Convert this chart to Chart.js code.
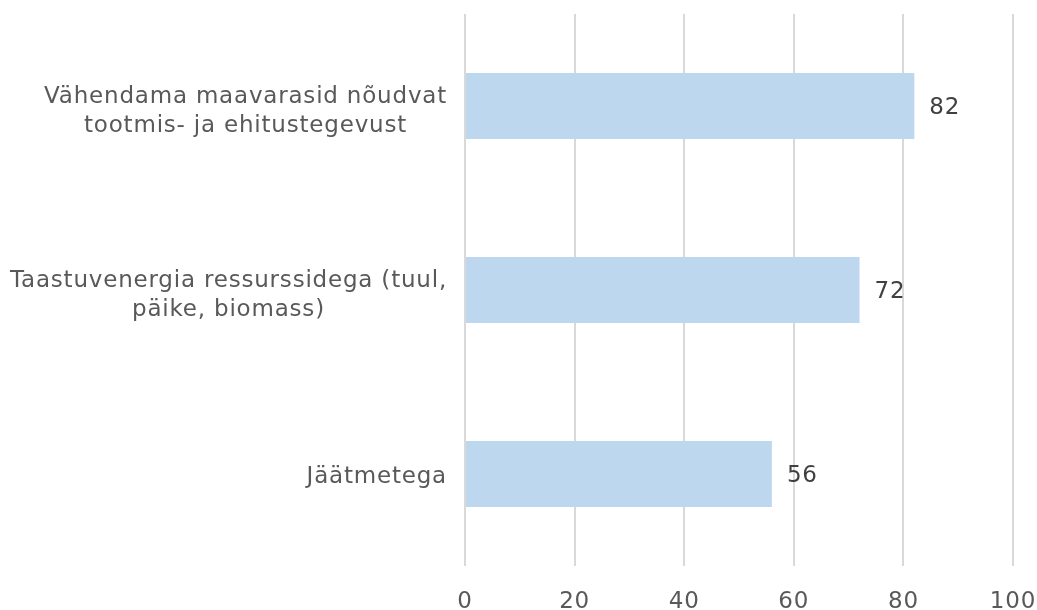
<!DOCTYPE html>
<html>
<head>
<meta charset="utf-8">
<script src="https://cdn.jsdelivr.net/npm/chart.js@4"></script>
<style>
  html, body { margin: 0; padding: 0; background: #fff; }
  #wrap { width: 1037px; height: 610px; }
</style>
</head>
<body>
<div id="wrap"><canvas id="myChart" width="1037" height="610"></canvas></div>
<script>
// Chart data
const categories = [
  ["Vähendama maavarasid nõudvat", "tootmis- ja ehitustegevust"],
  ["Taastuvenergia ressurssidega (tuul,", "päike, biomass)"],
  ["Jäätmetega"]
];
const values = [82, 72, 56];
const xTicks = [0, 20, 40, 60, 80, 100];

const fontFamily = "'DejaVu Sans', Verdana, sans-serif";
const fontSize = 23;

// wider letter spacing, like the original
const spacingPlugin = {
  id: "spacing",
  beforeDraw(chart) { chart.ctx.letterSpacing = "0.8px"; }
};

// draws the category labels (right aligned block, lines centered) and value labels
const labelPlugin = {
  id: "labels",
  afterDraw(chart) {
    const ctx = chart.ctx;
    const yScale = chart.scales.y;
    ctx.save();
    ctx.letterSpacing = "0.8px";
    ctx.font = fontSize + "px " + fontFamily;
    ctx.textBaseline = "middle";

    // category labels
    ctx.fillStyle = "#595959";
    const rightEdge = chart.chartArea.left - 18;
    categories.forEach((lines, i) => {
      const cy = yScale.getPixelForValue(i) + 3 + 3 * (lines.length - 1);
      const widths = lines.map(l => ctx.measureText(l).width);
      const maxW = Math.max(...widths);
      const center = rightEdge - maxW / 2;
      const lh = 29;
      const startY = cy - (lines.length - 1) * lh / 2;
      ctx.textAlign = "center";
      lines.forEach((l, j) => ctx.fillText(l, center, startY + j * lh));
    });

    // value labels
    ctx.fillStyle = "#404040";
    ctx.textAlign = "left";
    chart.getDatasetMeta(0).data.forEach((bar, i) => {
      ctx.fillText(String(values[i]), bar.x + 15, bar.y + 2);
    });
    ctx.restore();
  }
};

new Chart("myChart", {
  type: "bar",
  data: {
    labels: categories,
    datasets: [{
      data: values,
      backgroundColor: "#BDD7EE",
      borderWidth: 0,
      categoryPercentage: 0.36,
      barPercentage: 1
    }]
  },
  options: {
    indexAxis: "y",
    responsive: false,
    animation: false,
    layout: { padding: { left: 10, right: 24, top: 14, bottom: 0 } },
    plugins: {
      legend: { display: false },
      title: { display: false },
      tooltip: { enabled: false }
    },
    scales: {
      x: {
        min: 0,
        max: 100,
        afterBuildTicks: s => { s.ticks = xTicks.map(v => ({ value: v })); },
        afterFit: s => { s.height = 44; s.paddingRight = 0; s.paddingLeft = 0; },
        border: { display: false },
        grid: { color: "#D9D9D9", lineWidth: 2, drawTicks: false },
        ticks: {
          padding: 22,
          color: "#595959",
          font: { family: fontFamily, size: fontSize }
        }
      },
      y: {
        afterFit: s => { s.width = 455; },
        border: { display: false },
        grid: { display: false },
        ticks: { display: false }
      }
    }
  },
  plugins: [spacingPlugin, labelPlugin]
});
</script>
</body>
</html>
